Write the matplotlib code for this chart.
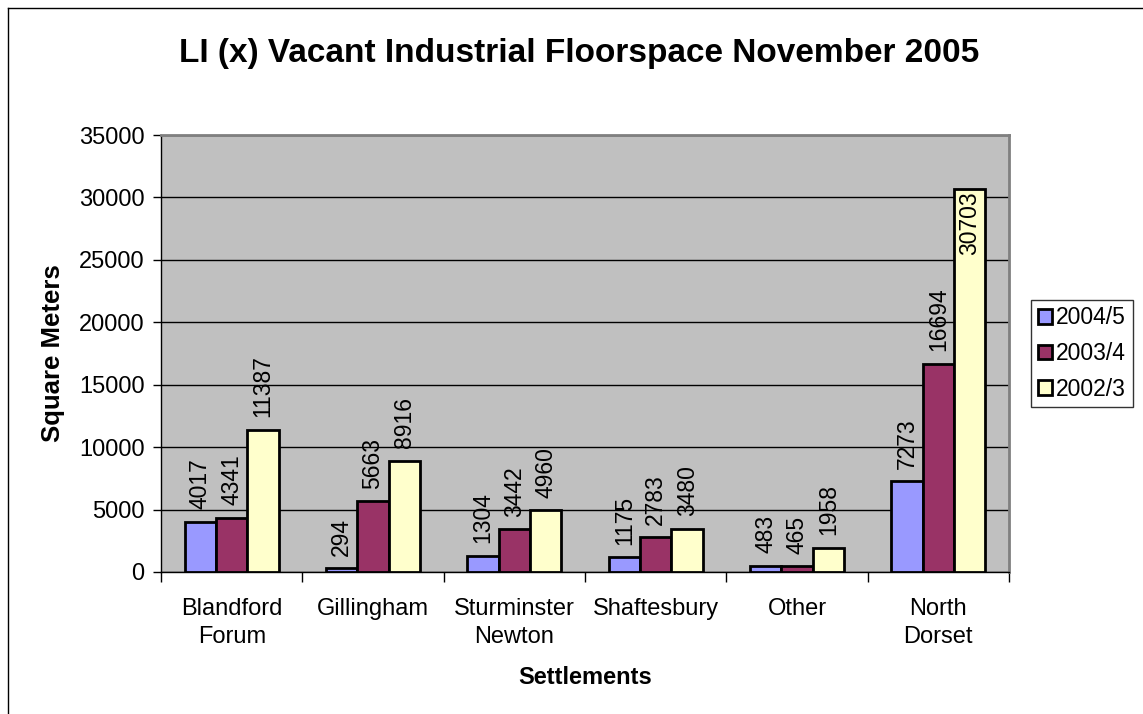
import numpy as np
import matplotlib
matplotlib.use("Agg")
import matplotlib.pyplot as plt
from matplotlib.lines import Line2D

plt.rcParams['font.family'] = ['Liberation Sans', 'DejaVu Sans']

# data
categories = ["Blandford\nForum", "Gillingham", "Sturminster\nNewton",
              "Shaftesbury", "Other", "North\nDorset"]
series_names = ["2004/5", "2003/4", "2002/3"]
v2004 = [4017, 294, 1304, 1175, 483, 7273]
v2003 = [4341, 5663, 3442, 2783, 465, 16694]
v2002 = [11387, 8916, 4960, 3480, 1958, 30703]
colors = ["#9999FF", "#993366", "#FFFFCC"]

fig = plt.figure(figsize=(11.43, 7.14), dpi=100)
ax = fig.add_axes([0.1409, 0.1989, 0.7419, 0.612])
ax.set_facecolor("#C0C0C0")

x = np.arange(len(categories))
width = 1 / 4.5
ymax = 35000

for i, (vals, name) in enumerate(zip([v2004, v2003, v2002], series_names)):
    pos = x + (i - 1) * width
    ax.bar(pos, vals, width, color=colors[i], edgecolor="black",
           linewidth=2, label=name, zorder=3)
    for px, v in zip(pos, vals):
        if v / ymax > 0.85:
            ax.annotate(str(v), (px, v), xytext=(0, -2), textcoords="offset points",
                        rotation=90, ha="center", va="top", fontsize=16.5, zorder=4)
        else:
            ax.annotate(str(v), (px, v), xytext=(0, 9), textcoords="offset points",
                        rotation=90, ha="center", va="bottom", fontsize=16.5, zorder=4)

ax.set_xlim(-0.5, len(categories) - 0.5)
ax.set_ylim(0, ymax)
ax.set_yticks(np.arange(0, 35001, 5000))
ax.yaxis.grid(True, color="black", linewidth=1)
ax.set_axisbelow(True)

ax.set_xticks(x)
ax.set_xticklabels(categories, fontsize=17, linespacing=1.32)
ax.set_xticks(np.arange(-0.5, len(categories), 1), minor=True)
ax.tick_params(axis="x", which="major", length=0, pad=19)
ax.tick_params(axis="x", which="minor", length=7, width=1)
ax.tick_params(axis="y", length=6, width=1, labelsize=17, pad=6)

for s in ["top", "right"]:
    ax.spines[s].set_color("#808080")
    ax.spines[s].set_linewidth(2)
for s in ["left", "bottom"]:
    ax.spines[s].set_color("black")
    ax.spines[s].set_linewidth(1)

ax.set_xlabel("Settlements", fontsize=17, fontweight="bold", labelpad=13)
ax.set_ylabel("Square Meters", fontsize=18.5, fontweight="bold", labelpad=10)

fig.text(0.507, 0.925, "LI (x) Vacant Industrial Floorspace November 2005",
         ha="center", va="center", fontsize=24, fontweight="bold")

leg = ax.legend(loc="center left", bbox_to_anchor=(1.026, 0.5), fontsize=16.5,
                frameon=True, fancybox=False, edgecolor="black",
                handlelength=0.6, handleheight=0.6, handletextpad=0.2,
                borderpad=0.3, labelspacing=0.55, borderaxespad=0)
leg.get_frame().set_linewidth(1)

# outer chart border (left and top edges visible)
fig.add_artist(Line2D([8 / 1143, 8 / 1143], [0, 1 - 8 / 714], color="black", lw=1))
fig.add_artist(Line2D([8 / 1143, 1], [1 - 8 / 714, 1 - 8 / 714], color="black", lw=1))

fig.savefig("out.png", dpi=100)
